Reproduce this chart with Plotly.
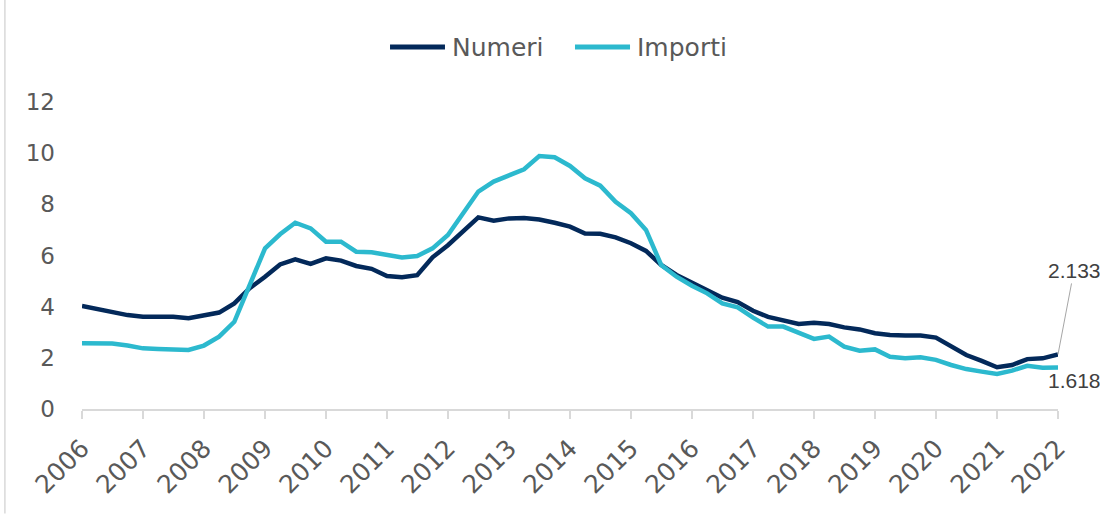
import pandas as pd
import plotly.graph_objects as go

quarters = pd.date_range("2006-01-01", periods=65, freq="QS")

numeri = [4.03, 3.90, 3.77, 3.67, 3.61, 3.60, 3.61, 3.55, 3.64, 3.77, 4.13, 4.72, 5.17,
          5.65, 5.85, 5.67, 5.89, 5.80, 5.59, 5.48, 5.20, 5.15, 5.23, 5.93,
          6.40, 6.97, 7.49, 7.36, 7.45, 7.47, 7.41, 7.28, 7.13, 6.86, 6.85, 6.71,
          6.48, 6.18, 5.63, 5.24, 4.94, 4.65, 4.35, 4.18, 3.84, 3.60, 3.44, 3.32,
          3.37, 3.32, 3.19, 3.11, 2.96, 2.89, 2.87, 2.87, 2.79, 2.44, 2.11, 1.88,
          1.63, 1.72, 1.95, 1.98, 2.133]

importi = [2.57, 2.57, 2.56, 2.48, 2.37, 2.35, 2.35, 2.31, 2.48, 2.83, 3.41, 4.85, 6.28,
           6.83, 7.28, 7.06, 6.54, 6.54, 6.15, 6.13, 6.02, 5.92, 5.98, 6.28,
           6.80, 7.65, 8.50, 8.89, 9.11, 9.37, 9.89, 9.84, 9.50, 9.02, 8.73, 8.10,
           7.65, 7.00, 5.63, 5.17, 4.82, 4.52, 4.13, 3.97, 3.57, 3.22, 3.22, 2.96,
           2.74, 2.83, 2.44, 2.28, 2.33, 2.04, 1.98, 2.02, 1.92, 1.72, 1.56, 1.46,
           1.37, 1.50, 1.69, 1.61, 1.618]

series_names = ["Numeri", "Importi"]

years = list(range(2006, 2023))
year_ticks = [pd.Timestamp(f"{y}-01-01") for y in years]
year_labels = [str(y) for y in years]

navy = "#03295a"
cyan = "#2cb9ce"
grey = "#595959"
main_font = "DejaVu Sans, Verdana, sans-serif"
label_font = "Liberation Sans, Arial, sans-serif"

fig = go.Figure()
for name, vals, col in zip(series_names, [numeri, importi], [navy, cyan]):
    fig.add_trace(go.Scatter(x=quarters, y=vals, name=name, mode="lines",
                             line=dict(color=col, width=4.5), showlegend=False))

# legend drawn as a centred row: swatch line + label
legend_y = 1.179
legend_items = [(0.3156, 0.3719, 0.377), (0.5051, 0.5615, 0.5666)]
for name, col, (sx0, sx1, tx) in zip(series_names, [navy, cyan], legend_items):
    fig.add_shape(type="line", xref="paper", yref="paper", x0=sx0, x1=sx1, y0=legend_y, y1=legend_y,
                  line=dict(color=col, width=5))
    fig.add_annotation(xref="paper", yref="paper", x=tx, y=legend_y, text=name, showarrow=False,
                       xanchor="left", yanchor="middle", font=dict(family=main_font, size=25, color=grey))

fig.add_annotation(x=quarters[-1], y=numeri[-1], text=f"{numeri[-1]:.3f}",
                   showarrow=True, arrowhead=0, arrowwidth=1, arrowcolor="#a6a6a6",
                   ax=16, ay=-84, font=dict(family=label_font, size=21, color="#404040"))
fig.add_annotation(x=quarters[-1], y=importi[-1], text=f"{importi[-1]:.3f}",
                   showarrow=False, xshift=16, yshift=-13,
                   font=dict(family=label_font, size=21, color="#404040"))

# chart frame (left edge visible in the reference)
fig.add_shape(type="line", xref="paper", yref="paper", x0=-0.079, x1=-0.079, y0=-0.34, y1=1.34,
              line=dict(color="#d9d9d9", width=1.5))

fig.update_layout(
    width=1100, height=514,
    margin=dict(l=82, r=42, t=102, b=105),
    paper_bgcolor="white", plot_bgcolor="white",
    font=dict(family=main_font, color=grey),
    showlegend=False,
    xaxis=dict(range=[year_ticks[0], year_ticks[-1]], tickmode="array", tickvals=year_ticks,
               ticktext=year_labels, tickangle=-45, showgrid=False, showline=True,
               linecolor="#d9d9d9", linewidth=1.5, ticks="outside", ticklen=8, tickcolor="#d9d9d9",
               tickwidth=1.5, tickfont=dict(size=25, color=grey), zeroline=False,
               ticklabelstandoff=5),
    yaxis=dict(range=[0, 12], tickvals=[0, 2, 4, 6, 8, 10, 12], showgrid=False, showline=False,
               zeroline=False, ticks="", tickfont=dict(size=23, color=grey),
               ticklabelstandoff=26),
)

fig.write_html("out.html", config={"displayModeBar": False},
               post_script="document.body.style.margin='0';document.body.style.overflow='hidden';")
